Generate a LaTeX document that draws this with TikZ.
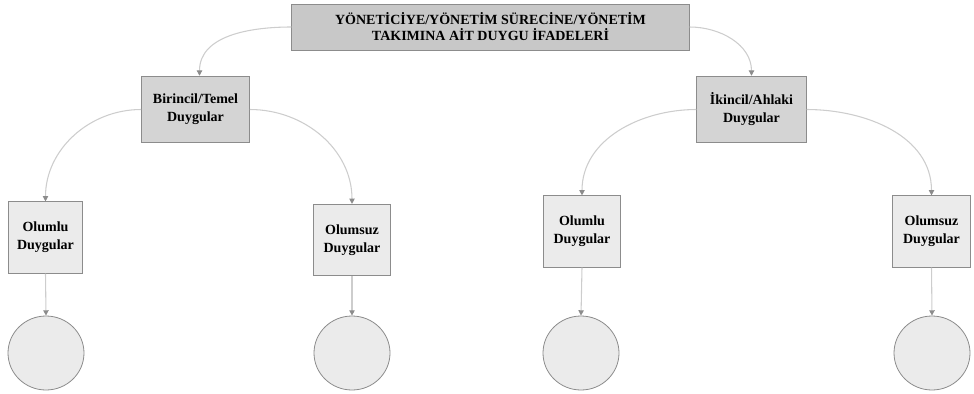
\documentclass[tikz,border=0pt]{standalone}
\usepackage{fontspec}
\setmainfont{Liberation Serif}
\usepackage{tikz}
\usetikzlibrary{arrows.meta, shapes.geometric, positioning}

\definecolor{topfill}{RGB}{200,200,200}
\definecolor{midfill}{RGB}{212,212,212}
\definecolor{leaffill}{RGB}{235,235,235}
\definecolor{edgegray}{RGB}{140,140,140}
\definecolor{linkgray}{RGB}{205,205,205}

\tikzset{
  topbox/.style={draw=edgegray, fill=topfill, line width=0.6pt, minimum width=298pt, minimum height=34.5pt, align=center, font=\bfseries\fontsize{10.5}{12}\selectfont},
  midbox/.style={draw=edgegray, fill=midfill, line width=0.6pt, minimum width=81pt, minimum height=50pt, align=center, font=\bfseries\fontsize{10.5}{13.5}\selectfont},
  leafbox/.style={draw=edgegray, fill=leaffill, line width=0.6pt, minimum width=58pt, minimum height=53.5pt, align=center, font=\bfseries\fontsize{10.5}{13.5}\selectfont},
  leafcirc/.style={ellipse, draw=edgegray, fill=leaffill, line width=0.6pt, minimum width=57pt, minimum height=55.5pt},
  link/.style={draw=linkgray, line width=0.8pt, -{Triangle[length=4pt,width=4pt,color=edgegray]}}
}

\begin{document}
\begin{tikzpicture}[x=0.75pt,y=0.75pt,yscale=-1,xscale=1]
\useasboundingbox (0,0) rectangle (974,393);

% top level
\node [topbox] (ifade) at (490.5,27) {YÖNETİCİYE/YÖNETİM SÜRECİNE/YÖNETİM\\TAKIMINA AİT DUYGU İFADELERİ};

% second level
\node [midbox] (temel) at (195.5,109.5) {Birincil/Temel\\Duygular};
\node [midbox, minimum width=82pt] (ahlaki) at (751.5,109.5) {İkincil/Ahlaki\\Duygular};

% third level
\node [leafbox, minimum width=56pt] (temelpoz) at (45.5,237.5) {Olumlu\\Duygular};
\node [leafbox] (temelneg) at (352,240) {Olumsuz\\Duygular};
\node [leafbox] (ahlakipoz) at (582,231.5) {Olumlu\\Duygular};
\node [leafbox] (ahlakineg) at (931.5,231.5) {Olumsuz\\Duygular};

% empty circles
\node [leafcirc] (c1) at (46,353) {};
\node [leafcirc] (c2) at (352,353) {};
\node [leafcirc] (c3) at (581,353) {};
\node [leafcirc] (c4) at (932,353) {};

% links
\draw [link] (ifade.west) to[out=180,in=270] ([xshift=3pt]temel.north);
\draw [link] (ifade.east) to[out=0,in=270] (ahlaki.north);
\draw [link] (temel.west) to[out=180,in=270] (temelpoz.north);
\draw [link] (temel.east) to[out=0,in=270] (temelneg.north);
\draw [link] (ahlaki.west) to[out=180,in=270] (ahlakipoz.north);
\draw [link] (ahlaki.east) to[out=0,in=270] (ahlakineg.north);
\draw [link] (temelpoz.south) -- (c1.north);
\draw [link] (temelneg.south) -- (c2.north);
\draw [link] (ahlakipoz.south) -- (c3.north);
\draw [link] (ahlakineg.south) -- (c4.north);

\end{tikzpicture}
\end{document}
